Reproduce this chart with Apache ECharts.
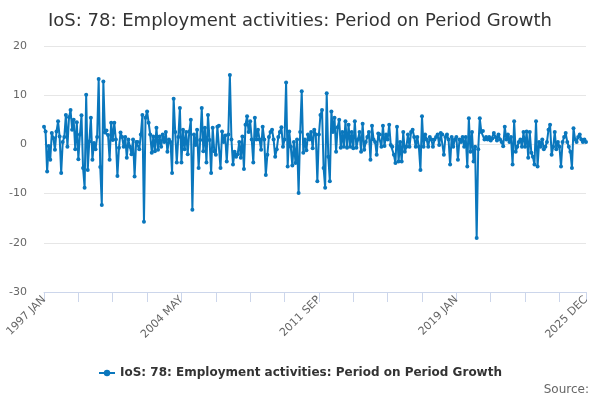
<!DOCTYPE html>
<html>
<head>
<meta charset="utf-8">
<script src="https://cdn.jsdelivr.net/npm/echarts@6/dist/echarts.min.js"></script>
<style>
  html, body { margin: 0; padding: 0; background: #fff; }
  #chart { width: 600px; height: 400px; }
</style>
</head>
<body>
<div id="chart"></div>
<script>
// IoS: 78 employment activities, monthly period-on-period growth (%)
const firstYear = 1997;
const lastYear = 2025;
const monthNames = ["JAN", "FEB", "MAR", "APR", "MAY", "JUN", "JUL", "AUG", "SEP", "OCT", "NOV", "DEC"];

const y1997 = [3.6, 2.6, -5.5, -0.3, -3.1, 2.3, 1.3, -1.1, 2.6, 4.7, 1.6, -5.8];
const y1998 = [0.5, 1.5, 6.0, -0.5, 5.5, 7.0, 3.0, 5.0, -1.0, 4.5, -3.0, 2.0];
const y1999 = [5.9, -4.8, -8.8, 10.1, -5.2, 0.6, 5.4, -3.1, 0.3, -1.0, 1.5, 13.3];
const y2000 = [-4.6, -12.3, 12.8, 2.4, 2.8, 1.9, -3.1, 4.4, 0.9, 4.4, 1.0, -6.4];
const y2001 = [-0.7, 2.4, 1.5, -0.5, 1.5, -2.7, 1.0, -0.5, -2.0, 1.0, -6.5, 0.5];
const y2002 = [0.5, -1.0, 2.0, 6.0, -15.7, 5.4, 6.7, 4.4, 2.0, -1.7, 1.6, -1.4];
const y2003 = [3.4, -1.1, 1.6, -0.5, 2.0, 0.5, 2.5, -1.5, 1.0, 0.5, -5.8, 9.3];
const y2004 = [2.5, -3.7, 1.5, 7.4, -3.7, 3.0, -1.0, 2.5, -2.0, 2.6, 5.0, -13.3];
const y2005 = [2.0, -0.1, 3.0, -4.8, 0.9, 7.4, -1.4, 3.4, -3.7, 6.0, 0.9, -5.8];
const y2006 = [3.4, -1.4, -2.1, 3.6, 3.8, -4.8, 2.6, 0.5, 1.8, -3.5, 2.0, 14.1];
const y2007 = [1.0, -4.1, -1.5, -2.5, -2.0, 0.5, -2.7, 1.6, -5.0, 4.0, 5.7, 2.5];
const y2008 = [4.7, 1.0, -3.7, 5.4, 1.0, 3.0, 1.0, -1.1, 3.6, 1.0, -6.2, -2.1];
const y2009 = [1.5, 2.5, 3.0, 1.0, -2.5, -1.0, 1.5, 2.5, 3.5, -0.5, 1.0, 12.6];
const y2010 = [-4.5, 2.6, -0.5, -4.3, 0.5, -3.8, 1.0, -9.9, 2.5, 10.8, -1.7, 1.0];
const y2011 = [-1.2, 2.0, 1.0, 2.5, -0.8, 3.0, 2.0, -7.5, 2.0, 6.0, 7.0, -4.8];
const y2012 = [-8.8, 10.4, -2.5, -7.5, 6.7, 2.5, 5.4, -1.5, 3.5, 5.0, -0.7, 2.5];
const y2013 = [-0.5, 4.7, -0.7, 4.0, -0.5, 2.5, -0.8, 4.7, -0.7, 1.0, 2.5, -1.5];
const y2014 = [4.2, -1.1, 0.5, 1.5, 2.5, -3.1, 3.8, 1.0, 0.5, -2.1, 2.2, 2.0];
const y2015 = [-0.5, 3.8, -0.3, 2.0, 1.0, 4.0, -0.1, -0.5, -2.1, -3.8, 3.6, -3.5];
const y2016 = [0.5, -3.5, 2.5, -1.5, -0.5, 2.0, -0.5, 2.5, 3.0, 1.5, -0.5, 1.5];
const y2017 = [-0.5, -5.2, 5.7, -0.5, 2.0, 1.0, -0.5, 1.5, 1.0, -0.5, 1.0, 1.5];
const y2018 = [2.0, -0.1, 2.3, 2.0, -2.1, 1.5, 2.0, 1.0, -4.1, 1.5, -0.5, 1.0];
const y2019 = [1.5, -3.1, 1.0, 0.5, 1.5, -0.5, 1.5, -4.5, 5.3, -1.5, 2.5, -3.5];
const y2020 = [-0.5, -19.0, -1.0, 5.3, 2.5, 2.7, 1.0, 1.5, 1.0, 1.5, 0.8, 1.2];
const y2021 = [2.3, 1.5, 0.8, 2.0, 1.0, 0.5, -0.4, 3.6, 1.0, 2.0, 0.5, 1.5];
const y2022 = [-4.1, 4.7, -1.5, -0.5, 0.5, 1.0, -0.5, 2.5, -0.5, 2.6, -2.7, 2.5];
const y2023 = [-1.7, -2.5, -4.1, 4.7, -4.5, 0.5, -0.5, 1.0, -1.0, -0.5, 0.5, 3.0];
const y2024 = [4.0, -2.1, -0.5, 2.5, -1.0, 0.5, -0.5, -4.5, 0.5, 1.5, 2.3, 0.5];
const y2025 = [-0.5, -1.5, -4.8, 3.3, 1.0, 0.5, 1.5, 2.0, 1.0, 0.5, 1.0, 0.5];

const yTicks = { min: -30, max: 20, interval: 10 };

const growth = [].concat(
  y1997, y1998, y1999, y2000, y2001, y2002, y2003, y2004, y2005, y2006,
  y2007, y2008, y2009, y2010, y2011, y2012, y2013, y2014, y2015, y2016,
  y2017, y2018, y2019, y2020, y2021, y2022, y2023, y2024, y2025
);

const months = [];
for (let yr = firstYear; yr <= lastYear; yr++) {
  monthNames.forEach(function (m) { months.push(yr + " " + m); });
}
const lastIdx = months.length - 1;

const C = {
  line: "#0a77bd",
  text: "#333333",
  muted: "#666666",
  grid: "#e6e6e6",
  axis: "#ccd6eb"
};

const chart = echarts.init(document.getElementById("chart"));
chart.setOption({
  animation: false,
  textStyle: { fontFamily: "DejaVu Sans" },
  title: {
    text: "IoS: 78: Employment activities: Period on Period Growth",
    left: "center",
    top: 7,
    textStyle: { fontSize: 18, fontWeight: "normal", color: C.text, fontFamily: "DejaVu Sans" }
  },
  grid: { left: 44, right: 14, top: 46, bottom: 108 },
  legend: {
    bottom: 16,
    left: "center",
    itemWidth: 16,
    itemHeight: 8,
    itemGap: 5,
    textStyle: { fontSize: 12, fontWeight: "bold", color: C.text }
  },
  graphic: [{
    type: "text",
    right: 11,
    top: 384,
    style: { text: "Source:", fill: C.muted, font: "12px DejaVu Sans" }
  }],
  xAxis: {
    type: "category",
    data: months,
    boundaryGap: false,
    axisLine: { onZero: false, lineStyle: { color: C.axis } },
    axisTick: {
      length: 10,
      interval: function (i) { return i % 22 === 0 || i === lastIdx; },
      lineStyle: { color: C.axis }
    },
    axisLabel: {
      interval: function (i) { return i % 88 === 0 || i === lastIdx; },
      rotate: 45,
      margin: 6,
      color: C.muted,
      fontSize: 11
    },
    splitLine: { show: false }
  },
  yAxis: {
    type: "value",
    min: yTicks.min,
    max: yTicks.max,
    interval: yTicks.interval,
    axisLine: { show: false },
    axisTick: { show: false },
    axisLabel: { color: C.muted, fontSize: 11, margin: 17 },
    splitLine: { lineStyle: { color: C.grid } }
  },
  series: [{
    name: "IoS: 78: Employment activities: Period on Period Growth",
    type: "line",
    data: growth,
    symbol: "circle",
    symbolSize: 4,
    showAllSymbol: true,
    itemStyle: { color: C.line },
    lineStyle: { color: C.line, width: 2 }
  }]
});
</script>
</body>
</html>
